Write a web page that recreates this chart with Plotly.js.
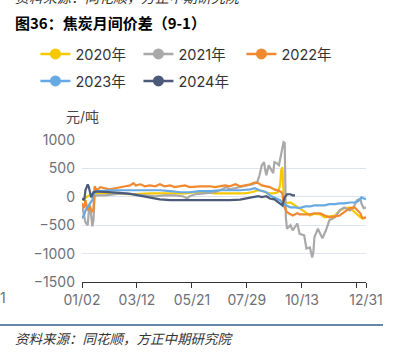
<!DOCTYPE html>
<html>
<head>
<meta charset="utf-8">
<script src="https://cdn.plot.ly/plotly-3.0.1.min.js"></script>
<style>
html,body{margin:0;padding:0;background:#fff;}
#chart{width:395px;height:353px;}
</style>
</head>
<body>
<div id="chart"></div>
<script>
// x = trading-day index within the year
const tickIdx = [0, 48, 96, 144, 192, 240, 248];
const tickLabels = ['01/02', '03/12', '05/21', '07/29', '10/13', '', '12/31'];

const x2020 = [0,3,5,9,12,24,42,59,77,90,99,107,116,125,134,142,148,154,158,162,167,171,173,174,175,176,177,182,186,190,195,199,203,208,212,216,221,225,229,234,238,243,246,248];
const y2020 = [-60,-10,10,45,60,60,45,60,60,60,80,80,60,60,60,60,80,115,100,60,60,80,200,470,520,25,-115,-100,-150,-200,-270,-330,-300,-310,-360,-345,-330,-240,-200,-190,-270,-360,-380,-360];

const x2021 = [0,2,3,5,6,7,8,9,10,11,13,20,29,38,46,55,64,72,81,88,92,94,99,107,116,122,126,129,134,140,145,149,153,155,157,159,160,161,163,165,167,168,170,172,174,175,176,177,178,179,182,184,188,190,194,196,199,201,202,203,206,208,210,213,216,221,225,229,234,237,240,243,244,246,248];
const y2021 = [-150,-330,-450,-500,-240,-150,-380,-520,-420,10,25,25,45,60,45,25,10,25,25,10,-30,10,45,60,80,130,170,130,150,185,200,220,255,380,555,610,470,380,555,470,415,610,590,555,770,910,960,945,-360,-560,-500,-590,-470,-650,-680,-910,-890,-1070,-980,-710,-560,-650,-730,-590,-415,-360,-240,-190,-240,-190,-60,-30,-115,-200,-190];

const x2022 = [0,2,3,5,7,9,10,11,13,16,20,24,29,33,38,42,45,47,51,55,59,64,68,72,77,81,86,90,94,99,103,107,112,116,120,125,129,134,138,142,147,151,154,157,161,164,168,173,175,176,179,182,184,188,190,195,199,203,208,212,216,221,225,229,234,238,241,243,245,248];
const y2022 = [-115,-200,-60,-240,-185,-270,-220,185,115,170,150,130,150,170,185,200,240,200,220,185,200,185,220,185,200,170,185,200,170,185,185,185,185,170,185,200,185,220,185,200,220,255,240,200,185,170,130,100,60,-150,-270,-310,-330,-290,-310,-310,-310,-290,-290,-330,-360,-345,-330,-270,-200,-185,-240,-290,-380,-360];

const x2023 = [0,2,3,5,7,9,10,12,16,24,33,42,51,59,68,77,86,94,103,112,120,129,138,147,151,155,161,164,168,173,175,178,182,186,190,195,199,203,208,212,216,221,225,229,234,238,241,243,244,246,248];
const y2023 = [-380,-310,-240,-170,-115,-60,45,100,100,115,115,115,115,115,115,100,80,80,100,100,115,115,115,130,150,115,80,25,-10,-60,-100,-150,-185,-185,-200,-170,-170,-150,-150,-150,-130,-130,-115,-115,-100,-100,-80,-45,-10,-30,-45];

const x2024 = [0,2,3,5,6,8,10,12,16,24,33,42,51,59,68,77,86,94,103,112,120,129,138,142,148,154,157,161,164,168,173,175,177,179,182,184,186];
const y2024 = [-30,-60,115,220,170,-10,80,90,90,85,70,50,15,-10,-45,-60,-60,-55,-60,-60,-65,-60,-50,-30,-10,10,-5,10,-30,-45,-115,-150,-10,45,45,25,25];

const names = ['2020年', '2021年', '2022年', '2023年', '2024年'];
const colors = ['#f5c800', '#a9a9a9', '#f08a30', '#66a9e3', '#4b5a78'];
const xs = [x2020, x2021, x2022, x2023, x2024];
const ys = [y2020, y2021, y2022, y2023, y2024];

const font = 'Inter, "Noto Sans CJK SC", sans-serif';
const traces = [];
names.forEach((n, i) => {
  traces.push({
    type: 'scatter', mode: 'lines', name: n,
    x: xs[i], y: ys[i],
    line: {color: colors[i], width: 2.2},
    showlegend: false, legendgroup: n
  });
});
// legend entries (line with circle marker, as in the reference legend)
names.forEach((n, i) => {
  traces.push({
    type: 'scatter', mode: 'lines+markers', name: n,
    x: [null], y: [null],
    line: {color: colors[i], width: 2.5},
    marker: {color: colors[i], size: 11, symbol: 'circle'},
    legend: i < 3 ? 'legend' : 'legend2',
    showlegend: true, legendgroup: n
  });
});

const legendCommon = {
  orientation: 'h', xanchor: 'left', yanchor: 'middle',
  font: {family: font, size: 14.5, color: '#333'},
  bgcolor: 'rgba(0,0,0,0)', entrywidth: 58, itemwidth: 30,
  tracegroupgap: 0
};

const layout = {
  width: 395, height: 353,
  margin: {l: 82, r: 29, t: 140, b: 71},
  paper_bgcolor: '#fff', plot_bgcolor: '#fff',
  showlegend: true,
  legend: Object.assign({}, legendCommon, {x: -0.164, y: 1 + (140 - 54) / 142}),
  legend2: Object.assign({}, legendCommon, {x: -0.164, y: 1 + (140 - 81) / 142}),
  xaxis: {
    range: [0, 248], tickmode: 'array', tickvals: tickIdx, ticktext: tickLabels,
    showgrid: false, zeroline: false, showline: true, linecolor: '#333', linewidth: 1,
    ticks: 'outside', ticklen: 5, tickcolor: '#333',
    tickfont: {family: font, size: 14, color: '#6e7079'}, fixedrange: true
  },
  yaxis: {
    range: [-1500, 1000], tickvals: [-1500, -1000, -500, 0, 500, 1000],
    showgrid: true, gridcolor: '#dde3ef', gridwidth: 1, zeroline: false,
    showline: false, ticks: '', ticklabelstandoff: 6,
    tickfont: {family: font, size: 14, color: '#6e7079'}, fixedrange: true
  },
  annotations: [
    {text: '<b>图36：焦炭月间价差（9-1）</b>', xref: 'paper', yref: 'paper',
     x: (13 - 82) / 284, y: 1 + (140 - 22) / 142, xanchor: 'left', yanchor: 'middle',
     showarrow: false, font: {family: '"Noto Sans CJK SC", sans-serif', size: 15, color: '#000'}},
    {text: '<i>资料来源：同花顺，方正中期研究院</i>', xref: 'paper', yref: 'paper',
     x: (13 - 82) / 284, y: 1 + (140 + 3) / 142, xanchor: 'left', yanchor: 'middle',
     showarrow: false, font: {family: '"Noto Sans CJK SC", sans-serif', size: 14, color: '#333'}},
    {text: '元/吨', xref: 'paper', yref: 'paper',
     x: (64 - 82) / 284, y: 1 + (140 - 116) / 142, xanchor: 'left', yanchor: 'middle',
     showarrow: false, font: {family: font, size: 14, color: '#444'}},
    {text: '1', xref: 'paper', yref: 'paper',
     x: (-2 - 82) / 284, y: 1 + (140 - 297) / 142, xanchor: 'left', yanchor: 'middle',
     showarrow: false, font: {family: font, size: 14, color: '#6e7079'}},
    {text: '<i>资料来源：同花顺，方正中期研究院</i>', xref: 'paper', yref: 'paper',
     x: (13 - 82) / 284, y: 1 + (140 - 338) / 142, xanchor: 'left', yanchor: 'middle',
     showarrow: false, font: {family: '"Noto Sans CJK SC", sans-serif', size: 13.5, color: '#333'}}
  ],
  shapes: [
    {type: 'line', xref: 'paper', yref: 'paper',
     x0: (0 - 82) / 284, x1: (383 - 82) / 284,
     y0: 1 + (140 - 325) / 142, y1: 1 + (140 - 325) / 142,
     line: {color: '#2f5f8a', width: 1.5}}
  ]
};

Plotly.newPlot('chart', traces, layout, {staticPlot: true, displayModeBar: false});
</script>
</body>
</html>
